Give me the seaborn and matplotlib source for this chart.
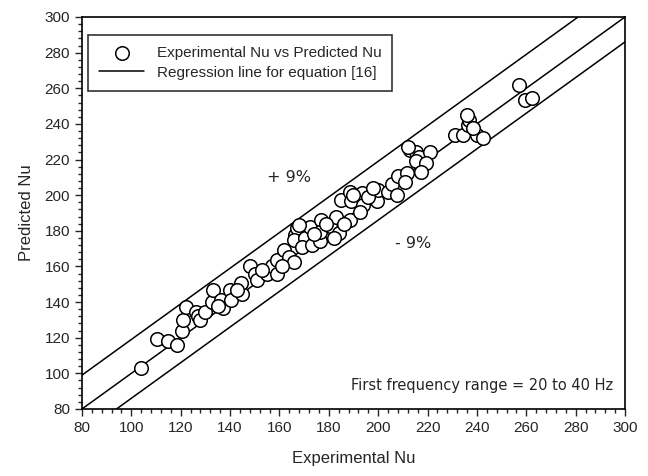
import numpy as np
import pandas as pd
import matplotlib
matplotlib.use("Agg")
import matplotlib.pyplot as plt
import seaborn as sns
from matplotlib.ticker import MultipleLocator

# experimental vs predicted Nu
exp_nu = [104, 110.5, 115, 118.5, 120.5, 121, 122, 126, 127, 128, 130, 132.5, 133,
          136.5, 137, 140, 140.5, 145, 144.5, 148, 150, 151, 155, 157, 159, 159,
          162, 164, 166, 166.5, 167, 166, 170.5, 172.5, 169, 173, 176.5, 177, 176.5,
          180.5, 183, 184, 188.5, 185, 188.5, 189, 193.5, 194, 192.5, 199.5, 200,
          204, 205.5, 207.5, 208, 211.5, 211, 213, 215.5, 216.5, 215.5, 221, 219.5,
          217.5, 212, 231, 234.5, 236.5, 237, 236, 240, 242.5, 238.5, 257, 259.5, 262.5,
          168, 174, 179, 182, 186, 190, 196, 198, 143, 135, 153, 161]
pred_nu = [103, 119, 118, 116, 124, 130, 137, 134.5, 132, 130, 134.5, 140, 147,
           141, 136.5, 147, 141, 144.5, 150.5, 160, 156, 152.5, 156, 160, 163.5, 156,
           169, 165.5, 162.5, 177.5, 181.5, 175, 176, 182, 171, 172, 174, 186, 179.5,
           182.5, 188, 178.5, 186, 197.5, 202, 197, 201, 194.5, 190.5, 196.5, 203,
           202, 206.5, 200, 211, 212.5, 207.5, 225.5, 224.5, 221.5, 219, 224.5, 218,
           213, 227, 234, 234, 239.5, 242, 245, 234, 232, 237.5, 262, 253.5, 254.5,
           183, 178, 184, 176, 184, 200, 199, 204, 147, 138, 158, 160]

line_x = [80, 300]
center_y = [80, 300]
upper_y = [99, 319]
lower_y = [66, 286]

sns.set_style("ticks")
plt.rcParams["font.family"] = ["Liberation Sans Narrow", "Liberation Sans", "DejaVu Sans"]

fig = plt.figure(figsize=(6.48, 4.76), dpi=100)
ax = fig.add_axes([0.1265, 0.1408, 0.838, 0.8235])

df = pd.DataFrame({"x": exp_nu, "y": pred_nu})
sns.lineplot(x=line_x, y=center_y, ax=ax, color="black", linewidth=1.1,
             label="Regression line for equation [16]")
sns.lineplot(x=line_x, y=upper_y, ax=ax, color="black", linewidth=1.1)
sns.lineplot(x=line_x, y=lower_y, ax=ax, color="black", linewidth=1.1)
sns.scatterplot(data=df, x="x", y="y", ax=ax, s=95, facecolor="white",
                edgecolor="black", linewidth=1.1, zorder=3,
                label="Experimental Nu vs Predicted Nu")

ax.set_xlim(80, 300)
ax.set_ylim(80, 300)
ax.xaxis.set_major_locator(MultipleLocator(20))
ax.yaxis.set_major_locator(MultipleLocator(20))
ax.xaxis.set_minor_locator(MultipleLocator(4))
ax.yaxis.set_minor_locator(MultipleLocator(4))
ax.tick_params(which="major", length=5, width=1, labelsize=11, direction="out")
ax.tick_params(which="minor", length=3, width=1, direction="out")
for s in ax.spines.values():
    s.set_linewidth(1.2)
    s.set_color("black")

ax.set_xlabel("Experimental Nu", fontsize=12, labelpad=12)
ax.set_ylabel("Predicted Nu", fontsize=12, labelpad=8)

txt_font = ["Verdana", "DejaVu Sans"]
ax.text(164, 210, "+ 9%", fontsize=11.5, ha="center", va="center", family=txt_font)
ax.text(214, 173, "- 9%", fontsize=11.5, ha="center", va="center", family=txt_font)
ax.text(295, 93, "First frequency range = 20 to 40 Hz", fontsize=10.5,
        ha="right", va="center", family=txt_font)

handles, labels = ax.get_legend_handles_labels()
order = [labels.index("Experimental Nu vs Predicted Nu"),
         labels.index("Regression line for equation [16]")]
leg = ax.legend([handles[i] for i in order], [labels[i] for i in order],
                loc="upper left", bbox_to_anchor=(0.011, 0.954), borderaxespad=0,
                fontsize=11, frameon=True, fancybox=False, borderpad=0.7,
                handlelength=3, labelspacing=0.4)
leg.get_frame().set_edgecolor("black")
leg.get_frame().set_linewidth(1.2)

fig.savefig("out.png", dpi=100)
